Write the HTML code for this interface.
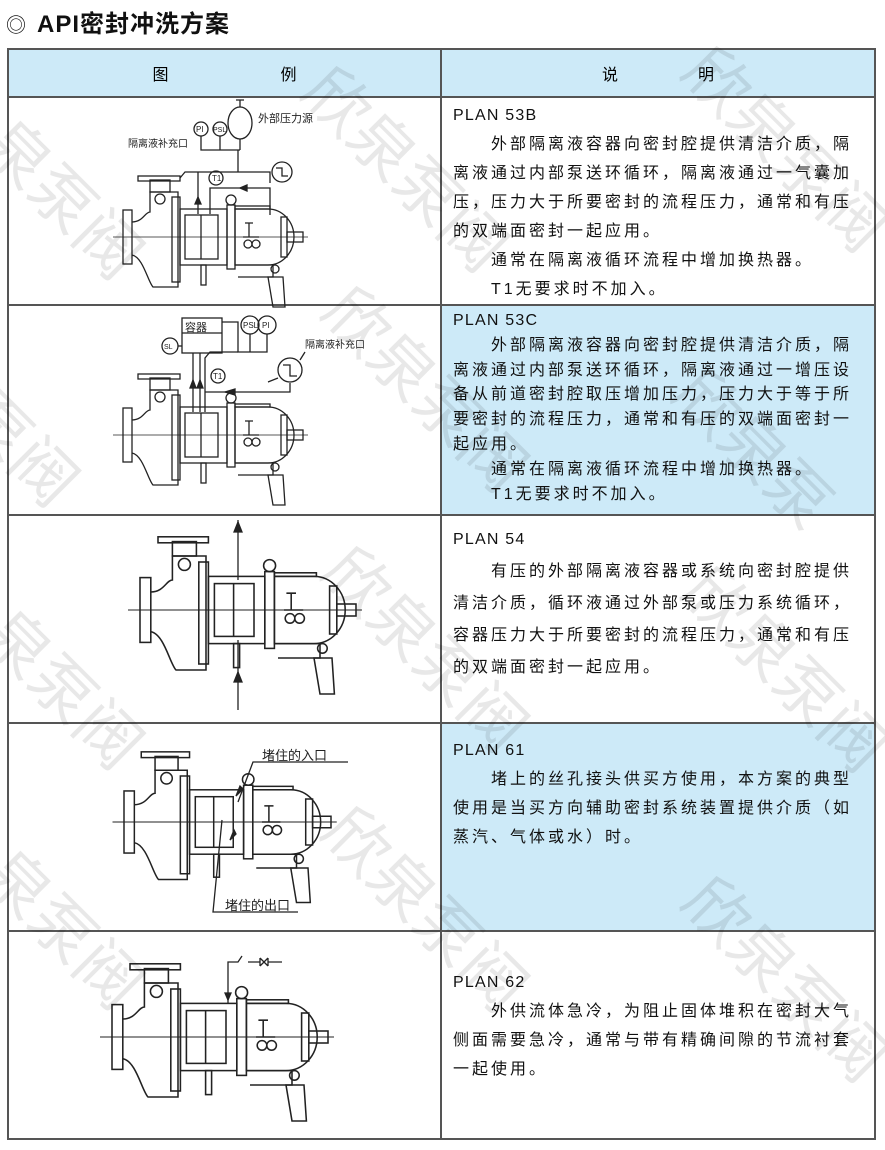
<!DOCTYPE html>
<html><head><meta charset="utf-8">
<style>
body{margin:0;width:885px;height:1150px;background:#fff;position:relative;overflow:hidden;font-family:"Liberation Sans","Noto Sans CJK SC",sans-serif;}
.title{position:absolute;left:6px;top:4px;font-size:24px;font-weight:bold;color:#111;letter-spacing:1px}
.title span{font-weight:normal;font-size:20px;margin-right:10px}
table{position:absolute;left:7px;top:48px;width:867px;border-collapse:collapse;table-layout:fixed}
td{border:2px solid #555;vertical-align:top;padding:0}
.hd td{background:#cdeaf8;height:46px;text-align:center;vertical-align:middle;font-size:16px}
.blue{background:#cdeaf8}
.txt{padding:3px 0 0 11px;font-size:16px;color:#111;letter-spacing:3px;line-height:29px;white-space:nowrap}
.txt.t2{line-height:24.8px}
.txt p{margin:0}
.txt p.pl{letter-spacing:1.2px}
.in{text-indent:38px}
.wm{position:absolute;color:rgba(0,0,0,0.09);font-size:64px;transform:rotate(45deg);font-family:"Noto Sans CJK SC",sans-serif;white-space:nowrap;pointer-events:none}
svg{position:absolute;left:0;top:0}
</style></head><body>
<div class="title"><span>◎</span>API密封冲洗方案</div>
<table>
<colgroup><col style="width:433px"><col style="width:434px"></colgroup>
<tr class="hd"><td>图&emsp;&emsp;&emsp;&emsp;&emsp;&emsp;&emsp;例</td><td>说&emsp;&emsp;&emsp;&emsp;&emsp;明</td></tr>
<tr style="height:208px"><td></td><td><div class="txt"><p class="pl">PLAN 53B</p><p class="in">外部隔离液容器向密封腔提供清洁介质，隔</p><p>离液通过内部泵送环循环，隔离液通过一气囊加</p><p>压，压力大于所要密封的流程压力，通常和有压</p><p>的双端面密封一起应用。</p><p class="in">通常在隔离液循环流程中增加换热器。</p><p class="in">T1无要求时不加入。</p></div></td></tr>
<tr style="height:210px"><td></td><td class="blue"><div class="txt t2"><p class="pl">PLAN 53C</p><p class="in">外部隔离液容器向密封腔提供清洁介质，隔</p><p>离液通过内部泵送环循环，隔离液通过一增压设</p><p>备从前道密封腔取压增加压力，压力大于等于所</p><p>要密封的流程压力，通常和有压的双端面密封一</p><p>起应用。</p><p class="in">通常在隔离液循环流程中增加换热器。</p><p class="in">T1无要求时不加入。</p></div></td></tr>
<tr style="height:208px"><td></td><td><div class="txt" style="padding-top:8px;line-height:32px"><p class="pl">PLAN 54</p><p class="in">有压的外部隔离液容器或系统向密封腔提供</p><p>清洁介质，循环液通过外部泵或压力系统循环，</p><p>容器压力大于所要密封的流程压力，通常和有压</p><p>的双端面密封一起应用。</p></div></td></tr>
<tr style="height:208px"><td></td><td class="blue"><div class="txt" style="padding-top:12px"><p class="pl">PLAN 61</p><p class="in">堵上的丝孔接头供买方使用，本方案的典型</p><p>使用是当买方向辅助密封系统装置提供介质（如</p><p>蒸汽、气体或水）时。</p></div></td></tr>
<tr style="height:208px"><td></td><td><div class="txt" style="padding-top:36px"><p class="pl">PLAN 62</p><p class="in">外供流体急冷，为阻止固体堆积在密封大气</p><p>侧面需要急冷，通常与带有精确间隙的节流衬套</p><p>一起使用。</p></div></td></tr>
</table>

<svg width="885" height="1150" viewBox="0 0 885 1150" fill="none" stroke="#222" stroke-width="1.3" font-family="Liberation Sans, Noto Sans CJK SC, sans-serif">
<defs>
<g id="pump">
<rect x="0" y="-27" width="9" height="54"/>
<path d="M9,-15 C20,-15 22,-25 27,-25 L27,-45 L55,-45 L55,50 L30,50 C25,45 20,20 9,18"/>
<rect x="27" y="-57" width="20" height="12"/>
<rect x="15" y="-61" width="42" height="5"/>
<circle cx="37" cy="-38" r="5"/>
<rect x="49" y="-40" width="8" height="85"/>
<rect x="57" y="-28" width="47" height="56"/>
<rect x="62" y="-22" width="33" height="44"/>
<line x1="78" y1="-22" x2="78" y2="22"/>
<rect x="104" y="-32" width="8" height="64"/>
<path d="M112,-28 L145,-28 A26,28 0 0 1 145,28 L112,28 Z"/>
<rect x="158" y="-20" width="6" height="40"/>
<rect x="164" y="-5" width="16" height="10"/>
<rect x="112" y="-31" width="35" height="3"/>
<path d="M112,28 L150,28 L150,40 L115,40"/>
<path d="M145,40 L160,40 L162,70 L150,70 Z"/>
<circle cx="125" cy="7" r="4"/><circle cx="133" cy="7" r="4"/>
<path d="M122,-14 L130,-14 M126,-14 L126,0 M120,0 L136,0"/>
<rect x="78" y="28" width="5" height="20"/>
<circle cx="108" cy="-37" r="5"/><circle cx="152" cy="32" r="4"/>
<line x1="-10" y1="0" x2="185" y2="0" stroke-width="0.8"/>
</g>
</defs>

<use href="#pump" x="123" y="237"/>
<path d="M198,214 L198,172 M198,172 L185,172 L180,178 M198,172 L238,172 L238,150 M238,172 L270,172 L270,183"/>
<path d="M210,214 L210,188 L270,188 L270,215"/>
<path d="M198,197 L195,204 L201,204 Z" fill="#222"/>
<path d="M240,188 L247,185 L247,191 Z" fill="#222"/>
<circle cx="282" cy="172" r="10"/><path d="M276,168 L282,168 L282,176 L288,176"/>
<circle cx="216" cy="178" r="7"/><text x="212" y="181" font-size="8" fill="#222" stroke="none">T1</text>
<circle cx="201" cy="129" r="7"/><circle cx="220" cy="129" r="7"/>
<ellipse cx="240" cy="123" rx="12" ry="16"/>
<path d="M201,136 L201,150 L220,150 M220,136 L220,150 L240,150 M240,139 L240,150"/>
<path d="M240,107 L240,100 M236,100 L244,100"/>
<text x="196" y="132" font-size="8" fill="#222" stroke="none">PI</text>
<text x="213" y="132" font-size="7" fill="#222" stroke="none">PSL</text>
<text x="258" y="122" font-size="11" fill="#222" stroke="none">外部压力源</text>
<text x="128" y="147" font-size="10" fill="#222" stroke="none">隔离液补充口</text>

<use href="#pump" x="123" y="435"/>
<rect x="182" y="318" width="40" height="35"/><line x1="182" y1="333" x2="222" y2="333"/>
<text x="185" y="331" font-size="11" fill="#222" stroke="none">容器</text>
<path d="M193,353 L193,412 M200,353 L200,412"/>
<path d="M193,380 L190,388 L196,388 Z M200,380 L197,388 L203,388 Z" fill="#222"/>
<circle cx="170" cy="346" r="8"/><text x="164" y="349" font-size="7" fill="#222" stroke="none">SL</text>
<path d="M178,346 L182,346"/>
<circle cx="250" cy="325" r="9"/><circle cx="267" cy="325" r="9"/>
<text x="243" y="328" font-size="8" fill="#222" stroke="none">PSL</text><text x="262" y="328" font-size="8" fill="#222" stroke="none">PI</text>
<path d="M222,322 L238,322 L238,352 L250,352 L250,334 M238,352 L267,352 L267,334"/>
<path d="M205,412 L205,392 L250,392 L290,392 L290,383 M238,352 L210,352 L205,358 L205,392"/>
<circle cx="290" cy="370" r="12"/><path d="M283,365 L290,365 L290,376 L297,376"/>
<path d="M278,378 L268,382 M300,360 L305,352"/>
<circle cx="218" cy="376" r="7"/><text x="213" y="379" font-size="8" fill="#222" stroke="none">T1</text>
<path d="M225,392 L235,389 L235,395 Z" fill="#222"/>
<text x="305" y="348" font-size="10" fill="#222" stroke="none">隔离液补充口</text>

<g transform="translate(140,610) scale(1.2)"><use href="#pump"/></g>
<path d="M238,520 L238,580 M238,640 L238,710"/>
<path d="M238,522 L234,532 L242,532 Z M238,672 L234,682 L242,682 Z" fill="#222"/>

<g transform="translate(124,822) scale(1.15)"><use href="#pump"/></g>
<path d="M238,802 L253,762 L348,762 M222,820 L213,912 L298,912"/>
<path d="M236,796 L240,786 L243,789 Z M230,840 L234,830 L236,834 Z" fill="#222"/>
<text x="262" y="760" font-size="13" fill="#222" stroke="none">堵住的入口</text>
<text x="225" y="910" font-size="13" fill="#222" stroke="none">堵住的出口</text>

<g transform="translate(112,1037) scale(1.2)"><use href="#pump"/></g>
<path d="M228,1003 L228,962 L238,962 L242,956 M248,962 L260,962 M268,962 L282,962"/>
<path d="M260,958 L268,966 M260,966 L268,958 M260,958 L260,966 M268,958 L268,966"/>
<path d="M228,1000 L225,993 L231,993 Z" fill="#222"/>
</svg>

<div class="wm" style="left:-30px;top:150px">泉泵阀</div>
<div class="wm" style="left:280px;top:120px">欣泉泵阀</div>
<div class="wm" style="left:660px;top:100px">欣泉泵阀</div>
<div class="wm" style="left:-40px;top:400px">泵阀</div>
<div class="wm" style="left:300px;top:340px">欣泉泵阀</div>
<div class="wm" style="left:660px;top:400px">欣泉泵</div>
<div class="wm" style="left:-30px;top:640px">泉泵阀</div>
<div class="wm" style="left:300px;top:600px">欣泉泵阀</div>
<div class="wm" style="left:660px;top:620px">欣泉泵阀</div>
<div class="wm" style="left:-30px;top:880px">泉泵阀</div>
<div class="wm" style="left:300px;top:860px">欣泉泵阀</div>
<div class="wm" style="left:660px;top:930px">欣泉泵阀</div>
</body></html>
